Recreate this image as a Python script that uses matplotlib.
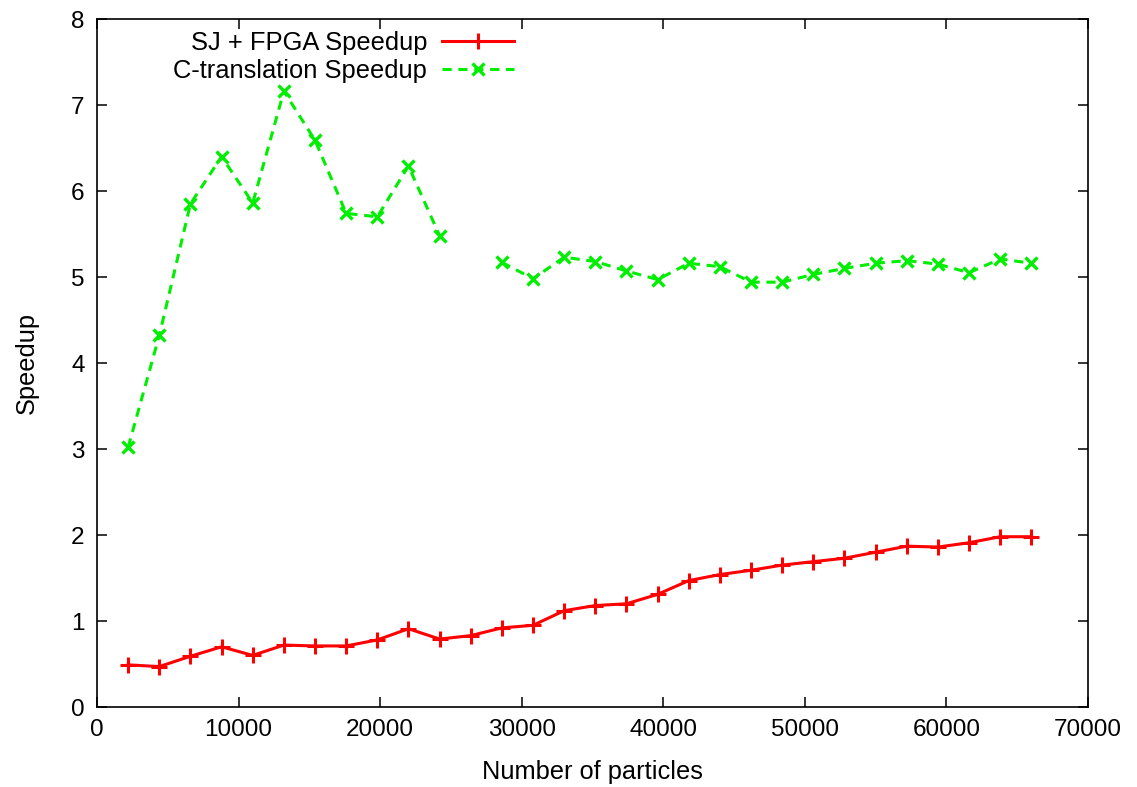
import numpy as np
import matplotlib
matplotlib.use('Agg')
import matplotlib.pyplot as plt

# number of particles (x), step 2200
particles = [2200 * k for k in range(1, 31)]

sj_fpga = [0.49, 0.47, 0.59, 0.70, 0.60, 0.72, 0.71, 0.71, 0.78, 0.91,
           0.79, 0.83, 0.92, 0.95, 1.12, 1.18, 1.20, 1.31, 1.47, 1.54,
           1.59, 1.65, 1.69, 1.73, 1.80, 1.87, 1.86, 1.91, 1.98, 1.98]

# no value at 26400 -> gap in the line
c_translation = [3.02, 4.32, 5.85, 6.40, 5.86, 7.16, 6.59, 5.74, 5.70, 6.29,
                 5.48, np.nan, 5.17, 4.98, 5.23, 5.18, 5.07, 4.97, 5.16, 5.12,
                 4.94, 4.94, 5.03, 5.10, 5.16, 5.19, 5.15, 5.05, 5.21, 5.16]

plt.rcParams['font.family'] = ['Liberation Sans', 'DejaVu Sans']
fs = 17.5
fs_label = 18.3

fig = plt.figure(figsize=(11.37, 7.87), dpi=100)
ax = fig.add_axes([97 / 1137, 1 - 707 / 787, (1088 - 97) / 1137, (707 - 19) / 787])

ax.plot(particles, sj_fpga, color='#ff0000', linewidth=2.2, marker='+',
        markersize=11, markeredgewidth=2.2, label='SJ + FPGA Speedup')
ax.plot(particles, c_translation, color='#00ee00', linewidth=2.2, linestyle=(0, (3, 2.2)),
        marker='x', markersize=9, markeredgewidth=2.4, label='C-translation Speedup')

ax.set_xlim(0, 70000)
ax.set_ylim(0, 8)
ax.set_xticks(range(0, 70001, 10000))
ax.set_yticks(range(0, 9))
ax.tick_params(direction='in', length=7, width=1.1, top=True, right=True,
               labelsize=fs, pad=9)
for s in ax.spines.values():
    s.set_linewidth(1.2)

ax.set_xlabel('Number of particles', fontsize=fs_label, labelpad=13)
ax.set_ylabel('Speedup', fontsize=fs_label, labelpad=23)

fig.legend(loc='upper right', bbox_to_anchor=(514 / 1137, 1 - 31 / 787),
           frameon=False, markerfirst=False, fontsize=18.4, handlelength=2.8,
           handletextpad=0.6, labelspacing=0.17, borderpad=0, borderaxespad=0)

fig.savefig('out.png', dpi=100)
